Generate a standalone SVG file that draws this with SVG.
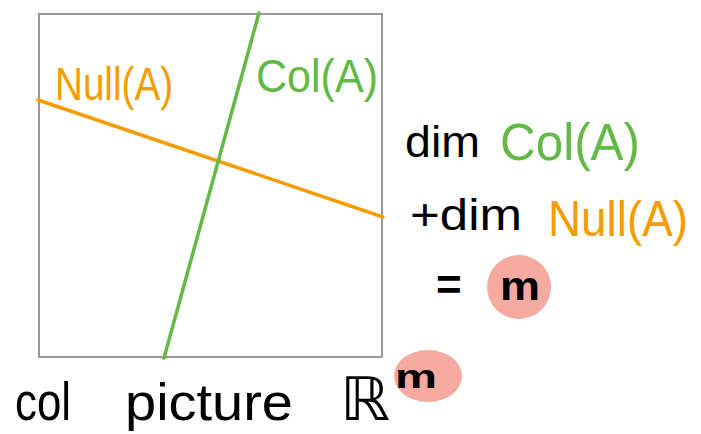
<svg xmlns="http://www.w3.org/2000/svg" width="701" height="434" viewBox="0 0 701 434">
<style>
.t{font-family:"Liberation Sans","DejaVu Sans",sans-serif;}
.k{fill:#000;}
.g{fill:#62b946;}
.o{fill:#f59c00;}
.hl{fill:#f5aaa0;}
</style>
<rect width="701" height="434" fill="#fff"/>
<g id="frame"><rect x="39" y="14" width="343" height="343" fill="none" stroke="#999" stroke-width="2"/></g>
<g id="connectors">
<line x1="38" y1="100" x2="383" y2="217" stroke="#f59c00" stroke-width="3.5" stroke-linecap="round"/>
<line x1="259" y1="13" x2="164" y2="358" stroke="#62b946" stroke-width="3.5" stroke-linecap="round"/>
</g>
<g id="null-label"><text class="t o" x="55" y="100" font-size="46" textLength="118" lengthAdjust="spacingAndGlyphs">Null(A)</text></g>
<g id="col-label"><text class="t g" x="256" y="92" font-size="46" textLength="122" lengthAdjust="spacingAndGlyphs">Col(A)</text></g>
<g id="eq1"><text class="t k" x="405" y="157" font-size="44" textLength="75" lengthAdjust="spacingAndGlyphs">dim</text><text class="t g" x="500" y="160" font-size="52" textLength="140" lengthAdjust="spacingAndGlyphs">Col(A)</text></g>
<g id="eq2"><text class="t k" x="410" y="230" font-size="44" textLength="112" lengthAdjust="spacingAndGlyphs">+dim</text><text class="t o" x="548" y="236" font-size="50" textLength="140" lengthAdjust="spacingAndGlyphs">Null(A)</text></g>
<g id="eq3"><circle class="hl" cx="519" cy="287" r="32"/><text class="t k" x="436" y="300" font-size="44" font-weight="bold">=</text><text class="t k" x="500" y="300" font-size="40" font-weight="bold" textLength="40" lengthAdjust="spacingAndGlyphs">m</text></g>
<g id="caption"><ellipse class="hl" cx="428" cy="376" rx="34" ry="26"/><text class="t k" x="15" y="420" font-size="54" textLength="56" lengthAdjust="spacingAndGlyphs">col</text><text class="t k" x="125" y="420" font-size="52" textLength="168" lengthAdjust="spacingAndGlyphs">picture</text><text class="t k" x="340" y="420" font-size="60" textLength="50" lengthAdjust="spacingAndGlyphs">ℝ</text><text class="t k" x="395" y="388" font-size="34" font-weight="bold" textLength="42" lengthAdjust="spacingAndGlyphs">m</text></g>
</svg>
